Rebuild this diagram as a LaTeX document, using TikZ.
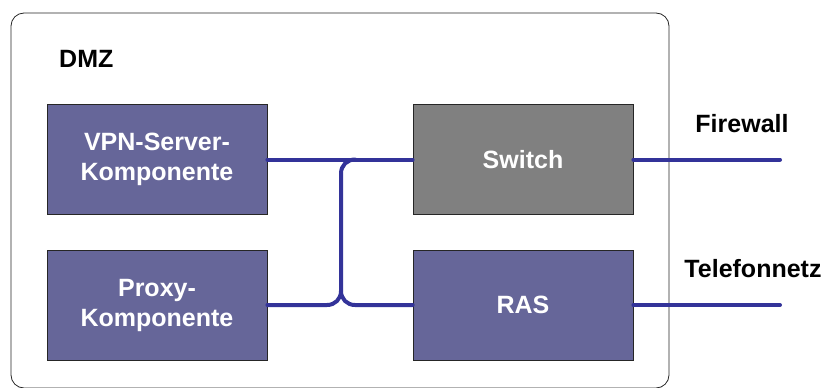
\documentclass[tikz,border=0pt]{standalone}
\usepackage{fontspec}
\setmainfont{Liberation Sans}
\usetikzlibrary{calc}
\definecolor{boxblue}{HTML}{666699}
\definecolor{boxgrey}{HTML}{808080}
\definecolor{wire}{HTML}{333399}
\tikzset{
  unit/.style={draw=black!85, line width=0.8pt, minimum width=220pt, minimum height=110pt,
    inner sep=0pt, align=center, text=white, font=\fontsize{25}{30}\selectfont\bfseries},
  bluebox/.style={unit, fill=boxblue},
  greybox/.style={unit, fill=boxgrey},
  link/.style={draw=wire, line width=4pt, line cap=round},
  label/.style={inner sep=0pt, font=\fontsize{25}{30}\selectfont\bfseries}
}
\begin{document}
\begin{tikzpicture}[x=1pt, y=-1pt]
\useasboundingbox (0,0) rectangle (827,388);
% DMZ enclosure
\draw[black!85, line width=0.8pt, rounded corners=13pt] (11,13) rectangle (669,388);
\node[label, anchor=base west] (dmz) at (59,67) {DMZ};

% components
\node[bluebox] (vpn)   at (157,159.5) {VPN-Server-\\Komponente};
\node[bluebox] (proxy) at (157,305)   {Proxy-\\Komponente};
\node[greybox] (sw)    at (523,159.5) {Switch};
\node[bluebox] (ras)   at (523,305)   {RAS};

% junction points of the internal wiring
\coordinate (jt) at (341,159.5);
\coordinate (jb) at (341,305);

% internal wiring
\draw[link] (vpn.east) -- (sw.west);
\draw[link] ($(jt)+(14,0)$) .. controls ($(jt)+(6,0)$) and ($(jt)+(0,6)$) .. ($(jt)+(0,14)$)
  -- ($(jb)+(0,-14)$);
\draw[link] (proxy.east) -- ($(jb)+(-14,0)$)
  .. controls ($(jb)+(-6,0)$) and ($(jb)+(0,-6)$) .. ($(jb)+(0,-14)$)
  .. controls ($(jb)+(0,-6)$) and ($(jb)+(6,0)$) .. ($(jb)+(14,0)$)
  -- (ras.west);

% external links
\coordinate (fwend)  at (780,159.5);
\coordinate (telend) at (780,305);
\draw[link] (sw.east) -- (fwend);
\draw[link] (ras.east) -- (telend);
\node[label, anchor=base] (fw)  at (742,132) {Firewall};
\node[label, anchor=base] (tel) at (753,277) {Telefonnetz};
\end{tikzpicture}
\end{document}
